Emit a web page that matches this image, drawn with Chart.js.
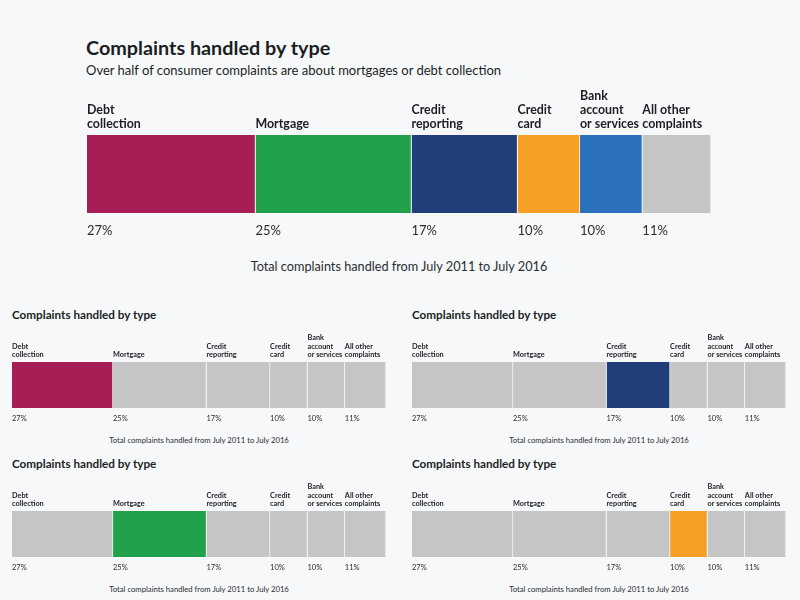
<!DOCTYPE html>
<html>
<head>
<meta charset="utf-8">
<script src="https://cdn.jsdelivr.net/npm/chart.js@4"></script>
<style>
  body { margin: 0; background: #f7f8fa; font-family: Lato, "Open Sans", sans-serif; color: #1b1f24; }
  #page { position: relative; width: 800px; height: 600px; overflow: hidden; }
  .txt { position: absolute; white-space: nowrap; }
  .box { position: absolute; }
</style>
</head>
<body>
<div id="page">
  <div class="txt" style="left:86px;top:35px;font-size:19.8px;font-weight:700;">Complaints handled by type</div>
  <div class="txt" style="left:86px;top:62px;font-size:13px;">Over half of consumer complaints are about mortgages or debt collection</div>
  <div class="box" style="left:87px;top:87px;width:624px;height:156px;"><canvas id="main"></canvas></div>
  <div class="txt" style="left:87px;width:624px;top:258px;font-size:12.7px;text-align:center;color:#2a2d31;">Total complaints handled from July 2011 to July 2016</div>
</div>
<script>
const categories = [
  ["Debt", "collection"],
  ["Mortgage"],
  ["Credit", "reporting"],
  ["Credit", "card"],
  ["Bank", "account", "or services"],
  ["All other", "complaints"]
];
const shares = [27, 25, 17, 10, 10, 11];
const shareLabels = ["27%", "25%", "17%", "10%", "10%", "11%"];
const colors = ["#a61e55", "#20a14a", "#213d7a", "#f7a025", "#2b70bb", "#c4c5c4"];
const greyColor = "#c4c5c4";
const bgColor = "#f7f8fa";

// small multiples: which category each panel highlights
const panelHighlight = [0, 2, 1, 3];
const panelLeft = [12, 412, 12, 412];
const panelBarTop = [362, 362, 511, 511];

const page = document.getElementById("page");

const segmentLabels = {
  id: "segmentLabels",
  afterDatasetsDraw(chart, args, opts) {
    const c = chart.ctx;
    const area = chart.chartArea;
    c.save();
    c.textAlign = "left";
    c.textBaseline = "middle";
    chart.data.datasets.forEach((ds, i) => {
      const bar = chart.getDatasetMeta(i).data[0];
      const x0 = Math.min(bar.base, bar.x);
      const lines = categories[i];
      c.fillStyle = "#1b1f24";
      c.font = "700 " + opts.size + "px Lato, 'Open Sans', sans-serif";
      lines.forEach((ln, k) => {
        const y = area.top - opts.gap - (lines.length - 1 - k) * opts.lineH;
        c.fillText(ln, x0, y);
      });
      c.font = "400 " + opts.pctSize + "px Lato, 'Open Sans', sans-serif";
      c.fillStyle = "#2a2d31";
      c.fillText(shareLabels[i], x0, area.bottom + opts.below);
    });
    c.restore();
  }
};

const makeChart = (canvas, barColors, pad, labelOpts) => {
  return new Chart(canvas, {
    type: "bar",
    data: {
      labels: ["Total"],
      datasets: categories.map((cat, i) => ({
        label: cat.join(" "),
        data: [shares[i]],
        backgroundColor: barColors[i],
        borderColor: bgColor,
        borderWidth: { left: 0, right: 1, top: 0, bottom: 0 },
        borderSkipped: false,
        barPercentage: 1,
        categoryPercentage: 1
      }))
    },
    options: {
      indexAxis: "y",
      responsive: true,
      maintainAspectRatio: false,
      animation: false,
      layout: { padding: pad },
      scales: {
        x: { stacked: true, min: 0, max: 100, display: false },
        y: { stacked: true, display: false }
      },
      plugins: {
        legend: { display: false },
        tooltip: { enabled: false },
        segmentLabels: labelOpts
      }
    },
    plugins: [segmentLabels]
  });
};

makeChart(document.getElementById("main"), colors,
  { top: 48, bottom: 30, left: 0, right: 0 },
  { size: 12.4, pctSize: 13, lineH: 14, gap: 11, below: 18 });

panelHighlight.forEach((hi, p) => {
  const left = panelLeft[p];
  const barTop = panelBarTop[p];
  const title = document.createElement("div");
  title.className = "txt";
  title.style.cssText = `left:${left}px;top:${barTop - 55}px;font-size:11.7px;font-weight:700;`;
  title.textContent = "Complaints handled by type";
  page.appendChild(title);

  const box = document.createElement("div");
  box.className = "box";
  box.style.cssText = `left:${left}px;top:${barTop - 32}px;width:374px;height:100px;`;
  const cv = document.createElement("canvas");
  box.appendChild(cv);
  page.appendChild(box);

  const cap = document.createElement("div");
  cap.className = "txt";
  cap.style.cssText = `left:${left}px;width:374px;top:${barTop + 73}px;font-size:7.7px;text-align:center;color:#2a2d31;`;
  cap.textContent = "Total complaints handled from July 2011 to July 2016";
  page.appendChild(cap);

  const barColors = colors.map((col, i) => (i === hi ? col : greyColor));
  makeChart(cv, barColors,
    { top: 32, bottom: 22, left: 0, right: 0 },
    { size: 7.3, pctSize: 7.5, lineH: 8.5, gap: 7, below: 11 });
});
</script>
</body>
</html>
